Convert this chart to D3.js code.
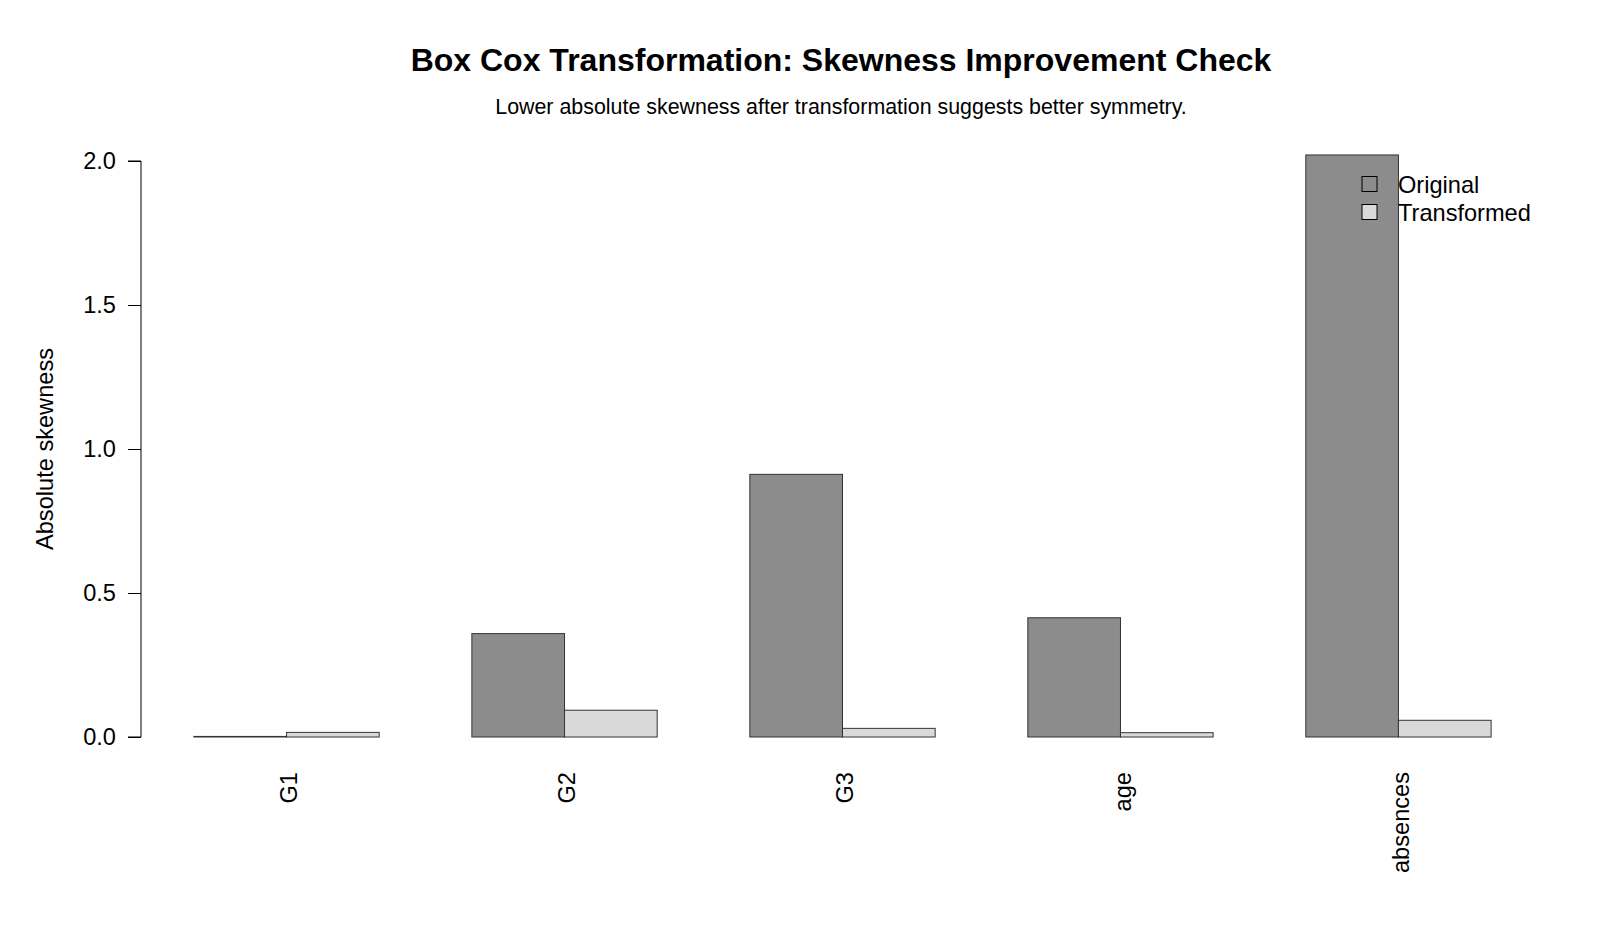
<!DOCTYPE html>
<html>
<head>
<meta charset="utf-8">
<script src="https://cdn.jsdelivr.net/npm/d3@7"></script>
<style>
  html, body { margin: 0; padding: 0; background: #fff; }
  svg { display: block; font-family: "Liberation Sans", Arial, sans-serif; }
</style>
</head>
<body>
<svg id="chart" width="1600" height="941"></svg>
<script>
const categories = ["G1", "G2", "G3", "age", "absences"];
const seriesNames = ["Original", "Transformed"];
const originalValues = [0.002, 0.359, 0.912, 0.414, 2.021];
const transformedValues = [0.016, 0.093, 0.030, 0.015, 0.058];
const yTicks = [0, 0.5, 1.0, 1.5, 2.0];
const titleText = "Box Cox Transformation: Skewness Improvement Check";
const subtitleText = "Lower absolute skewness after transformation suggests better symmetry.";
const yLabelText = "Absolute skewness";

const colors = ["#8c8c8c", "#d9d9d9"];
const fs = 23.6;
const svg = d3.select("#chart");

// x in R barplot units: group i bars occupy [3i+1, 3i+3]
const x = d3.scaleLinear().domain([0.44, 15.56]).range([142, 1543]);
const y = d3.scaleLinear().domain([0, 2]).range([737, 161]);

const series = [originalValues, transformedValues];

const bars = [];
categories.forEach((c, i) => {
  series.forEach((vals, s) => {
    bars.push({ cat: c, s, v: vals[i], x0: 3 * i + 1 + s });
  });
});

svg.append("g").selectAll("rect").data(bars).join("rect")
  .attr("x", d => x(d.x0))
  .attr("width", d => x(d.x0 + 1) - x(d.x0))
  .attr("y", d => y(d.v))
  .attr("height", d => y(0) - y(d.v))
  .attr("fill", d => colors[d.s])
  .attr("stroke", "#333")
  .attr("stroke-width", 1);

// Y axis
const yAxis = d3.axisLeft(y).tickValues(yTicks).tickFormat(d3.format(".1f")).tickSize(13).tickPadding(12);
const gy = svg.append("g").attr("transform", "translate(141,0)").call(yAxis);
gy.select(".domain").attr("stroke", "#000").attr("d", `M-13,${y(0)}H0V${y(2)}H-13`);
gy.selectAll(".tick line").attr("stroke", "#000");
gy.selectAll(".tick text").attr("font-size", fs).attr("fill", "#000")
  .attr("font-family", "Liberation Sans, Arial, sans-serif");

// X labels (rotated)
svg.append("g").selectAll("text").data(categories).join("text")
  .attr("transform", (d, i) => `translate(${x(3 * i + 2)},772) rotate(-90)`)
  .attr("text-anchor", "end")
  .attr("dy", "0.45em")
  .attr("font-size", fs)
  .attr("fill", "#000")
  .text(d => d);

// Y label
svg.append("text")
  .attr("transform", "translate(45,449) rotate(-90)")
  .attr("text-anchor", "middle")
  .attr("dy", "0.35em")
  .attr("font-size", fs)
  .attr("fill", "#000")
  .text(yLabelText);

// Title & subtitle
svg.append("text")
  .attr("x", 841).attr("y", 71)
  .attr("text-anchor", "middle")
  .attr("font-size", 32).attr("font-weight", "bold")
  .attr("fill", "#000")
  .text(titleText);
svg.append("text")
  .attr("x", 841).attr("y", 114)
  .attr("text-anchor", "middle")
  .attr("font-size", 21.4)
  .attr("fill", "#000")
  .text(subtitleText);

// Legend
const legend = svg.append("g");
seriesNames.forEach((name, i) => {
  const cy = 184 + i * 28;
  legend.append("rect")
    .attr("x", 1362).attr("y", cy - 7.5)
    .attr("width", 15).attr("height", 15)
    .attr("fill", colors[i]).attr("stroke", "#000").attr("stroke-width", 1);
  legend.append("text")
    .attr("x", 1398).attr("y", cy + 1)
    .attr("dy", "0.35em")
    .attr("font-size", fs)
    .attr("fill", "#000")
    .text(name);
});
</script>
</body>
</html>
